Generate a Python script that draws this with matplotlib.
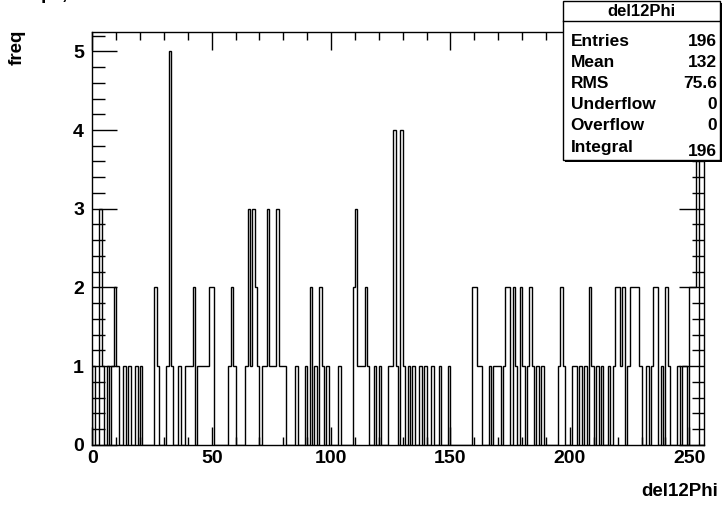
import numpy as np
import matplotlib
matplotlib.use('Agg')
import matplotlib.pyplot as plt
from matplotlib.patches import Rectangle

# del12Phi histogram, 256 bins of width 1
counts = [
    1, 0, 0, 3, 1, 0, 1, 0, 1, 2, 1, 0, 0, 1, 0, 1,
    0, 0, 1, 0, 1, 0, 0, 0, 0, 0, 2, 1, 0, 0, 0, 1,
    5, 1, 0, 0, 1, 0, 0, 1, 1, 1, 2, 0, 1, 1, 1, 1,
    1, 2, 2, 0, 0, 0, 0, 0, 0, 1, 2, 1, 0, 0, 0, 0,
    1, 3, 1, 3, 2, 1, 0, 1, 1, 3, 1, 1, 1, 3, 1, 1,
    1, 0, 0, 0, 0, 1, 0, 0, 0, 1, 0, 2, 0, 1, 0, 2,
    1, 0, 1, 0, 0, 0, 0, 1, 0, 0, 0, 0, 0, 2, 3, 1,
    1, 1, 2, 1, 0, 0, 1, 0, 1, 0, 0, 0, 1, 1, 4, 1,
    0, 4, 1, 0, 1, 0, 1, 0, 0, 1, 0, 1, 0, 0, 1, 0,
    0, 1, 0, 0, 0, 1, 0, 0, 0, 0, 0, 0, 0, 0, 0, 2,
    2, 1, 1, 0, 0, 0, 1, 0, 1, 1, 1, 0, 1, 2, 2, 0,
    2, 1, 0, 2, 1, 0, 1, 2, 1, 0, 1, 0, 1, 0, 0, 0,
    0, 0, 0, 1, 2, 1, 0, 0, 0, 1, 1, 0, 1, 0, 1, 0,
    2, 1, 0, 1, 0, 1, 0, 0, 1, 0, 1, 2, 2, 1, 2, 0,
    1, 2, 2, 2, 2, 1, 0, 0, 1, 0, 1, 2, 2, 0, 1, 0,
    2, 1, 0, 0, 0, 1, 0, 1, 1, 0, 2, 2, 2, 4, 0, 0,
]
edges = np.arange(0, 257)

stat_names = ['Entries', 'Mean', 'RMS', 'Underflow', 'Overflow', 'Integral']
stat_values = ['196', '132', '75.6', '0', '0', '196']

plt.rcParams['font.family'] = ['Liberation Sans', 'DejaVu Sans']
plt.rcParams['font.weight'] = 'bold'

W, H = 724, 511
fig = plt.figure(figsize=(W / 100, H / 100), dpi=100)
ax = fig.add_axes([92.3 / W, 1 - 444.7 / H, (703.6 - 92.3) / W, (444.7 - 31.7) / H])

ax.stairs(counts, edges, color='black', linewidth=1.0)
ax.set_xlim(0, 256)
ax.set_ylim(0, 5.25)

ax.set_xticks([0, 50, 100, 150, 200, 250])
ax.set_xticks(np.arange(0, 257, 10), minor=True)
ax.set_yticks([0, 1, 2, 3, 4, 5])
ax.set_yticks(np.arange(0, 5.25, 0.2), minor=True)
ax.tick_params(which='both', direction='in', top=True, right=True, width=1, colors='black')
ax.tick_params(axis='x', which='major', length=13, labelsize=14, pad=4)
ax.tick_params(axis='x', which='minor', length=6)
ax.tick_params(axis='y', which='major', length=18, labelsize=14, pad=6)
ax.tick_params(axis='y', which='minor', length=9)
for lab in ax.get_xticklabels() + ax.get_yticklabels():
    lab.set_fontweight('bold')
for sp in ax.spines.values():
    sp.set_linewidth(1)

fig.text(718 / W, 1 - 492 / H, 'del12Phi', ha='right', va='center', fontsize=13.5, fontweight='bold')
fig.text(17 / W, 1 - 30 / H, 'freq', rotation=90, ha='center', va='top', fontsize=13.5, fontweight='bold')

# title, mostly outside the canvas
fig.text(41 / W, 1 + 1.5 / H, 'p', ha='left', va='baseline', fontsize=14, fontweight='bold')
fig.text(62 / W, 1 + 1.5 / H, ',', ha='left', va='baseline', fontsize=14, fontweight='bold')

# stats box with shadow
bx0, bx1, by0, by1 = 563, 720, 1, 160
fig.patches.append(Rectangle(((bx0 + 2) / W, 1 - (by1 + 2) / H), (bx1 - bx0) / W, (by1 - by0) / H,
                             transform=fig.transFigure, facecolor='black', edgecolor='black', lw=0, zorder=5))
fig.patches.append(Rectangle((bx0 / W, 1 - by1 / H), (bx1 - bx0) / W, (by1 - by0) / H,
                             transform=fig.transFigure, facecolor='white', edgecolor='black', lw=1, zorder=6))
fig.lines.append(plt.Line2D([bx0 / W, bx1 / W], [1 - 20.7 / H, 1 - 20.7 / H],
                            transform=fig.transFigure, color='black', lw=1, zorder=7))
fig.text((bx0 + bx1) / 2 / W, 1 - 11 / H, 'del12Phi', ha='center', va='center',
         fontsize=12, fontweight='bold', zorder=8)
rows_y = [41.5, 62.5, 83.5, 104.5, 125.5, 147]
for name, val, y in zip(stat_names, stat_values, rows_y):
    fig.text(570.5 / W, 1 - y / H, name, ha='left', va='center', fontsize=12.5, fontweight='bold', zorder=8)
    fig.text(717 / W, 1 - (y + (5 if name == 'Integral' else 0)) / H, val, ha='right', va='center',
             fontsize=12.5, fontweight='bold', zorder=8)

fig.savefig('out.png', dpi=100)
